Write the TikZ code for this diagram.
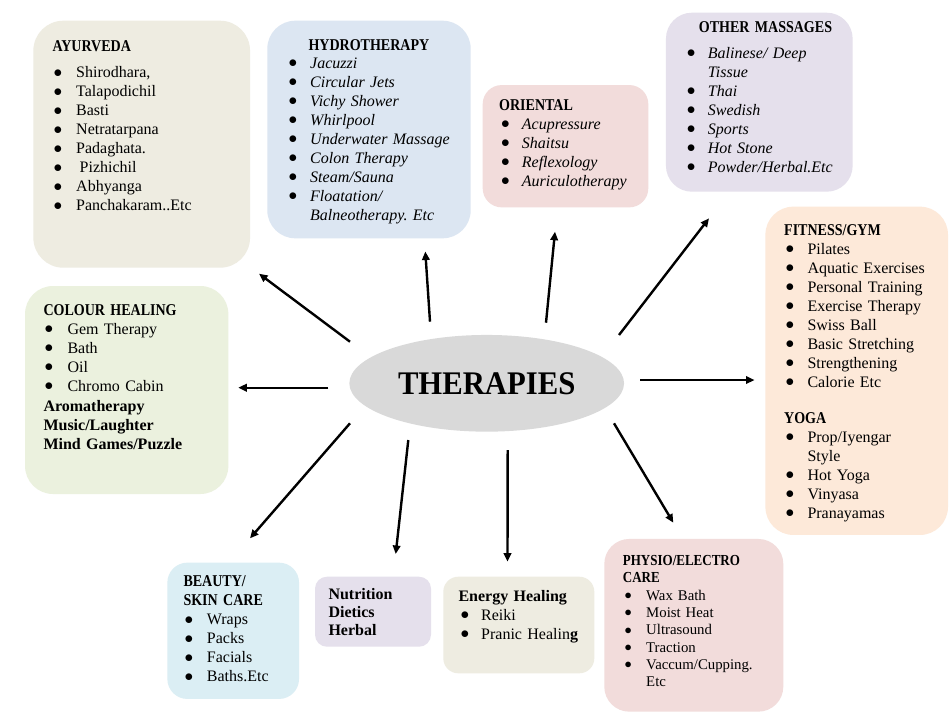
\documentclass[tikz,border=0pt]{standalone}
\usepackage{fontspec}
\setmainfont{Liberation Serif}
\newfontfamily\tfont[FakeStretch=0.85]{Liberation Serif}
\newfontfamily\bigfont[FakeStretch=0.93]{Liberation Serif}
\usetikzlibrary{arrows.meta,shapes.geometric}
\definecolor{cTan}{HTML}{EEECE1}
\definecolor{cBlue}{HTML}{DCE6F2}
\definecolor{cPink}{HTML}{F2DCDB}
\definecolor{cLav}{HTML}{E5E0EC}
\definecolor{cPeach}{HTML}{FDE9D9}
\definecolor{cGreen}{HTML}{EBF1DE}
\definecolor{cAqua}{HTML}{DBEEF4}
\definecolor{cGray}{HTML}{D9D9D9}
\newcommand\Dot{\raisebox{0.6pt}{$\bullet$}}
\newcommand\Bul[1]{\hspace*{\Bo}\makebox[\Bw][l]{\upshape\Dot}{\Itf #1}}
\newcommand\Cont[1]{\hspace*{\Bo}\hspace*{\Bw}{\Itf #1}}
\newcommand\Ttl[1]{\hspace*{\Tofs}{\tfont\fontsize{16.5}{19}\selectfont\bfseries #1}}
\tikzset{
  box/.style={rectangle, draw=none, inner sep=0pt, anchor=center},
  txt/.style={anchor=north west, inner sep=0pt, text width=220pt, align=left,
              font=\fontsize{16}{19}\selectfont\frenchspacing},
  arr/.style={-{Triangle[length=8.5pt,width=7.5pt]}, line width=2.4pt, black},
}
\begin{document}
\begin{tikzpicture}[x=1pt,y=-1pt]
\fill[white] (0,0) rectangle (950,718);
\useasboundingbox (0,0) rectangle (950,718);

% boxes
\node[box, fill=cTan, rounded corners=30pt, minimum width=216.7pt, minimum height=247pt] (ayur) at (141.7,144.2) {};
\node[box, fill=cBlue, rounded corners=28pt, minimum width=203.4pt, minimum height=217.6pt] (hydro) at (369,129.5) {};
\node[box, fill=cPink, rounded corners=19pt, minimum width=165.6pt, minimum height=122.3pt] (orient) at (565.5,146.2) {};
\node[box, fill=cLav, rounded corners=26pt, minimum width=186.7pt, minimum height=179pt] (other) at (759.3,102.2) {};
\node[box, fill=cPeach, rounded corners=28pt, minimum width=182.6pt, minimum height=328.3pt] (fit) at (856.7,370.8) {};
\node[box, fill=cGreen, rounded corners=28pt, minimum width=203.3pt, minimum height=208pt] (colour) at (126.7,390) {};
\node[box, fill=cAqua, rounded corners=20pt, minimum width=131.7pt, minimum height=136.3pt] (beauty) at (233.2,630.8) {};
\node[box, fill=cLav, rounded corners=12pt, minimum width=116pt, minimum height=70pt] (nutri) at (373,611.7) {};
\node[box, fill=cTan, rounded corners=15pt, minimum width=151pt, minimum height=96.6pt] (energy) at (518.8,625) {};
\node[box, fill=cPink, rounded corners=25pt, minimum width=179pt, minimum height=172.7pt] (physio) at (693.8,625.3) {};

% centre
\node[ellipse, fill=cGray, inner sep=0pt, minimum width=274.7pt, minimum height=96.7pt,
      font=\bigfont\fontsize{33}{38}\selectfont\bfseries] (ther) at (486.7,383.3) {THERAPIES};

% texts
\node[txt] (ayurT) at (52.3,38.4) {\def\Bo{1.2pt}\def\Bw{22.5pt}\def\Tofs{0pt}\def\Itf{}%
\strut\Ttl{AYURVEDA}\\[7pt]
\Bul{Shirodhara,}\\
\Bul{Talapodichil}\\
\Bul{Basti}\\
\Bul{Netratarpana}\\
\Bul{Padaghata.}\\
\Bul{\hspace*{3.5pt}Pizhichil}\\
\Bul{Abhyanga}\\
\Bul{Panchakaram..Etc}};

\node[txt] (hydroT) at (288.3,36.7) {\def\Bo{0pt}\def\Bw{21.7pt}\def\Tofs{20pt}\def\Itf{\itshape}%
\strut\Ttl{HYDROTHERAPY}\\[-0.7pt]
\Bul{Jacuzzi}\\
\Bul{Circular Jets}\\
\Bul{Vichy Shower}\\
\Bul{Whirlpool}\\
\Bul{Underwater Massage}\\
\Bul{Colon Therapy}\\
\Bul{Steam/Sauna}\\
\Bul{Floatation/}\\
\Cont{Balneotherapy. Etc}};

\node[txt] (orientT) at (499,96.7) {\def\Bo{2pt}\def\Bw{20.7pt}\def\Tofs{0pt}\def\Itf{\itshape}%
\strut\Ttl{ORIENTAL}\\
\Bul{Acupressure}\\
\Bul{Shaitsu}\\
\Bul{Reflexology}\\
\Bul{Auriculotherapy}};

\node[txt] (otherT) at (686.7,19) {\def\Bo{0pt}\def\Bw{21pt}\def\Tofs{12pt}\def\Itf{\itshape}%
\strut\Ttl{OTHER MASSAGES}\\[7pt]
\Bul{Balinese/ Deep}\\
\Cont{Tissue}\\
\Bul{Thai}\\
\Bul{Swedish}\\
\Bul{Sports}\\
\Bul{Hot Stone}\\
\Bul{Powder/Herbal.Etc}};

\node[txt] (fitT) at (784,221.7) {\def\Bo{1.5pt}\def\Bw{21.8pt}\def\Tofs{0pt}\def\Itf{}%
\strut\Ttl{FITNESS/GYM}\\
\Bul{Pilates}\\
\Bul{Aquatic Exercises}\\
\Bul{Personal Training}\\
\Bul{Exercise Therapy}\\
\Bul{Swiss Ball}\\
\Bul{Basic Stretching}\\
\Bul{Strengthening}\\
\Bul{Calorie Etc}\\[17pt]
\Ttl{YOGA}\\
\Bul{Prop/Iyengar}\\
\Cont{Style}\\
\Bul{Hot Yoga}\\
\Bul{Vinyasa}\\
\Bul{Pranayamas}};

\node[txt] (colourT) at (43.3,301.7) {\def\Bo{1pt}\def\Bw{23pt}\def\Tofs{0pt}\def\Itf{}%
\strut\Ttl{COLOUR HEALING}\\
\Bul{Gem Therapy}\\
\Bul{Bath}\\
\Bul{Oil}\\
\Bul{Chromo Cabin}\\[1.7pt]
\textbf{Aromatherapy}\\
\textbf{Music/Laughter}\\
\textbf{Mind Games/Puzzle}};

\node[txt] (beautyT) at (183.3,573.4) {\def\Bo{1.2pt}\def\Bw{22.2pt}\def\Tofs{0pt}\def\Itf{}%
\strut\Ttl{BEAUTY/}\\
\Ttl{SKIN CARE}\\
\Bul{Wraps}\\
\Bul{Packs}\\
\Bul{Facials}\\
\Bul{Baths.Etc}};

\node[txt, font=\fontsize{16}{18.2}\selectfont\bfseries] (nutriT) at (328.3,586.6) {%
\strut Nutrition\\
Dietics\\
Herbal};

\node[txt] (energyT) at (458.3,587.7) {\def\Bo{2pt}\def\Bw{20.7pt}\def\Tofs{0pt}\def\Itf{}%
\strut\textbf{Energy Healing}\\
\Bul{Reiki}\\
\Bul{Pranic Healin\textbf{g}}};

\node[txt, font=\fontsize{14.8}{17.3}\selectfont\frenchspacing] (physioT) at (622.7,553.6) {\def\Bo{1.6pt}\def\Bw{21.7pt}\def\Tofs{0pt}\def\Itf{}%
\strut{\tfont\fontsize{15.3}{17.3}\selectfont\bfseries PHYSIO/ELECTRO}\\[-0.7pt]
{\tfont\fontsize{15.3}{17.3}\selectfont\bfseries CARE}\\[0.4pt]
\Bul{Wax Bath}\\
\Bul{Moist Heat}\\
\Bul{Ultrasound}\\
\Bul{Traction}\\
\Bul{Vaccum/Cupping.}\\
\Cont{Etc}};

% arrows
\coordinate (a1s) at (350,341.7);   \coordinate (a1e) at (259,273.7);
\coordinate (a2s) at (430,321.7);   \coordinate (a2e) at (425.3,251.5);
\coordinate (a3s) at (546,322.7);   \coordinate (a3e) at (555,231.7);
\coordinate (a4s) at (619,335);     \coordinate (a4e) at (709,218.3);
\coordinate (a5s) at (640,380);     \coordinate (a5e) at (754.5,380);
\coordinate (a6s) at (614,423.3);   \coordinate (a6e) at (673.3,522.7);
\coordinate (a7s) at (507.7,450);   \coordinate (a7e) at (507.5,561.7);
\coordinate (a8s) at (408.3,440);   \coordinate (a8e) at (395.7,554);
\coordinate (a9s) at (350,423.3);   \coordinate (a9e) at (250,538.3);
\coordinate (a10s) at (328.3,387.7); \coordinate (a10e) at (238.3,387.7);
\foreach \i in {1,...,10} {\draw[arr] (a\i s) -- (a\i e);}
\end{tikzpicture}
\end{document}
